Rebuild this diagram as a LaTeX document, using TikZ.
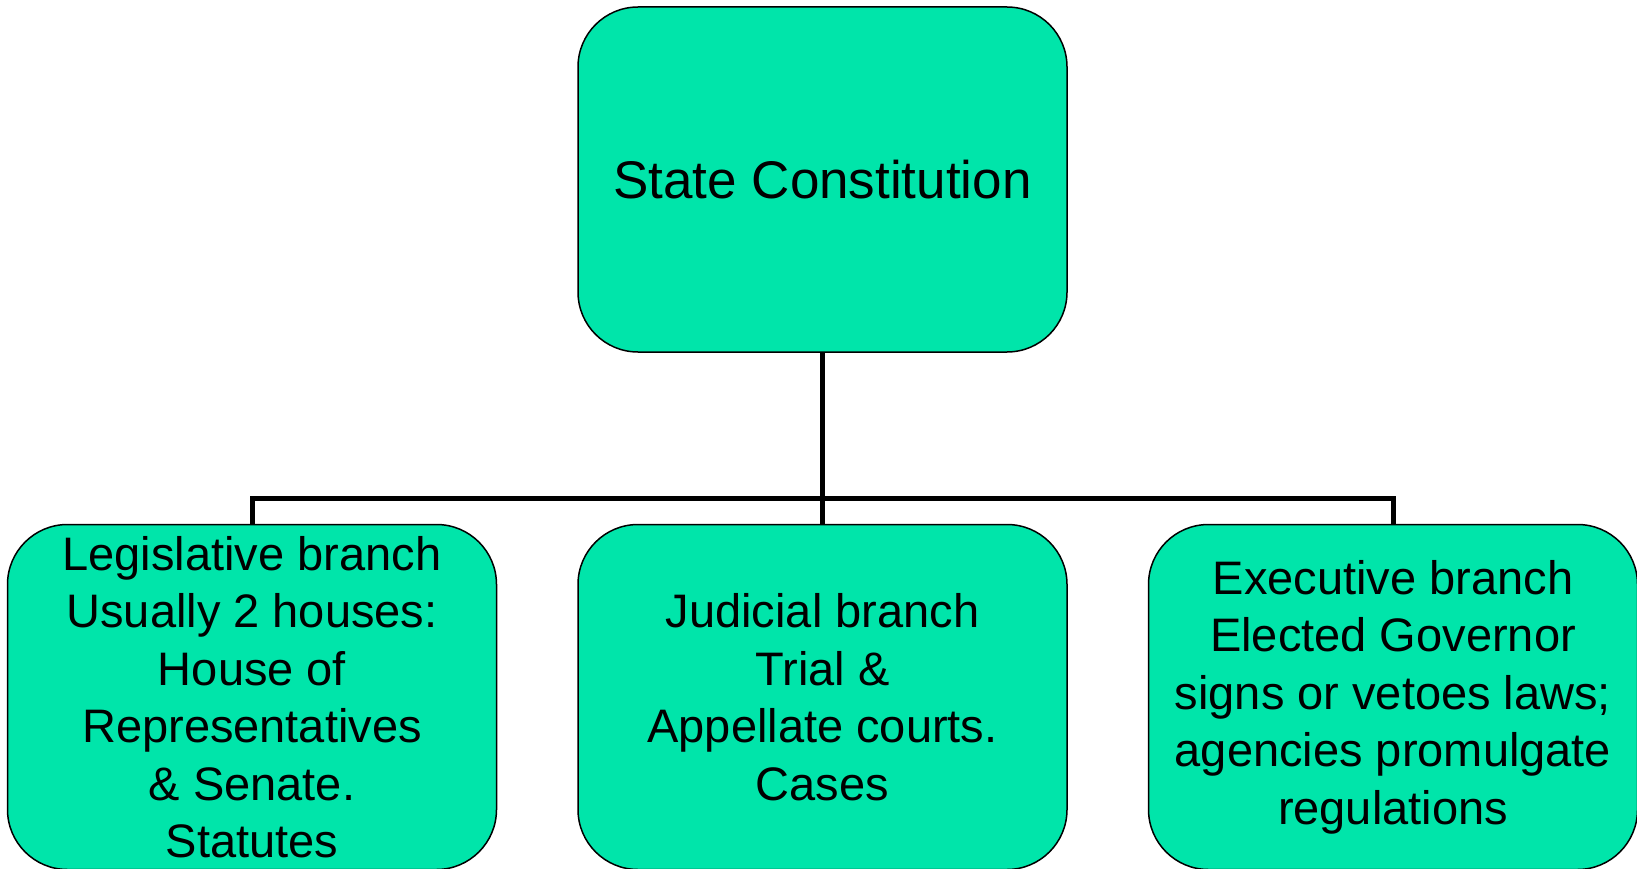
\documentclass[tikz,border=0pt]{standalone}
\usepackage{fontspec}
\setmainfont{Liberation Sans}
\usepackage{xcolor}
\usepackage{tikz}
\definecolor{boxgreen}{RGB}{0,229,170}
\tikzstyle{top} = [rectangle, rounded corners=60pt, minimum width=489pt, minimum height=345pt, text centered, align=center, draw=black, line width=1.5pt, fill=boxgreen, font=\fontsize{53}{60}\selectfont]
\tikzstyle{branch} = [rectangle, rounded corners=60pt, minimum width=489pt, minimum height=345pt, text centered, align=center, draw=black, line width=1.5pt, fill=boxgreen, font=\fontsize{47}{57.5}\selectfont]
\tikzstyle{link} = [line width=5pt]

\begin{document}
\begin{tikzpicture}[node distance=570.5pt]

\useasboundingbox (0,0) rectangle (1637pt,-869pt);

\node (sc) [top] at (822.5pt,-179.5pt) {State Constitution};

\node (jud) [branch, below of=sc, yshift=53pt] {Judicial branch\\Trial \&\\Appellate courts.\\Cases};
\node (leg) [branch, left of=jud] {Legislative branch\\Usually 2 houses:\\House of\\Representatives\\\& Senate.\\Statutes};
\node (exe) [branch, right of=jud] {Executive branch\\Elected Governor\\signs or vetoes laws;\\agencies promulgate\\regulations};

\draw [link] (sc) -- (jud);
\draw [link] (leg.north) -- ++(0,25pt) -| (exe.north);

\end{tikzpicture}
\end{document}
